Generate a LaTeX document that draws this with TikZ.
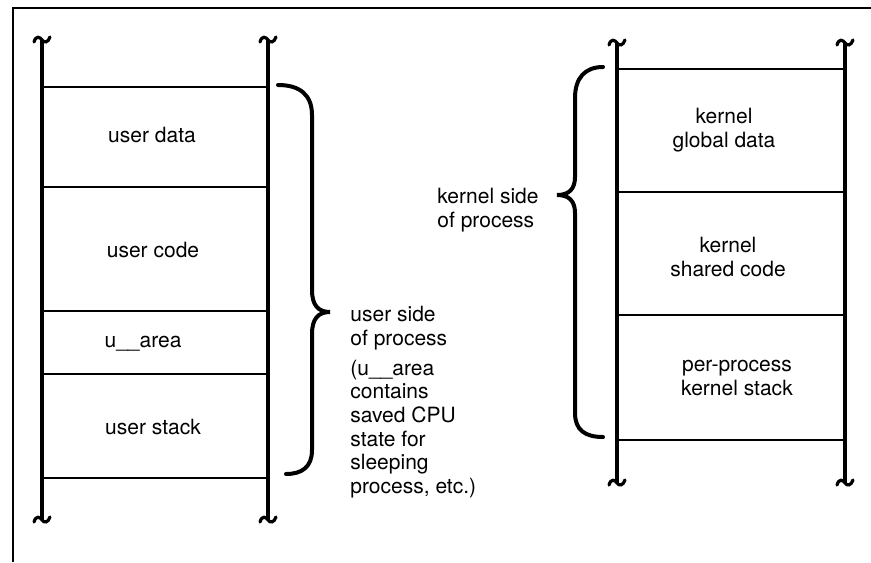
\documentclass[tikz,border=0pt]{standalone}
\usepackage{fontspec}
\setmainfont{TeX Gyre Heros}
\usepackage{tikz}
\usetikzlibrary{positioning}

\begin{document}
\begin{tikzpicture}[
  x=0.5pt, y=-0.5pt,
  col/.style={line width=2pt},
  sepline/.style={line width=1.2pt},
  wig/.style={line width=1.6pt, line cap=round},
  brc/.style={line width=2pt, line cap=round},
  frm/.style={line width=0.8pt},
  lbl/.style={inner sep=0pt, align=center,
    font=\fontsize{10.5}{11.8}\selectfont}
]
\useasboundingbox (0,0) rectangle (871,562);

% frame
\draw[frm] (13,562) -- (13,8) -- (871,8);

% column walls with broken ends
\foreach \x/\yt/\yb in {42/40/520, 268/40/520, 617/43/483, 845/43/483} {
  \draw[col] (\x,\yt) -- (\x,\yb);
  \draw[wig] (\x-8,\yt+2) .. controls (\x-6,\yt-5) and (\x-2,\yt-3) .. (\x,\yt)
    .. controls (\x+2,\yt+3) and (\x+6,\yt+3) .. (\x+8,\yt-3);
  \draw[wig] (\x-8,\yb+2) .. controls (\x-6,\yb-5) and (\x-2,\yb-3) .. (\x,\yb)
    .. controls (\x+2,\yb+3) and (\x+6,\yb+3) .. (\x+8,\yb-3);
}

% dividers
\foreach \y in {87, 187, 311, 374, 478}
  \draw[sepline] (42,\y) -- (268,\y);
\foreach \y in {69, 192, 315, 440}
  \draw[sepline] (617,\y) -- (845,\y);

% user side
\node[lbl] (udata)  at (152,135) {user data};
\node[lbl] (ucode)  at (153,250) {user code};
\node[lbl] (uarea)  at (143,344) {u\_\_area};
\node[lbl] (ustack) at (153,427) {user stack};

% kernel side
\node[lbl] (kdata)  at (724,130) {kernel\\global data};
\node[lbl] (kcode)  at (728,257) {kernel\\shared code};
\node[lbl] (kstack) at (737,378) {per-process\\kernel stack};

% braces
\coordinate (utip) at (330,312);
\coordinate (ktip) at (557,195);
\draw[brc] (278,85) .. controls (300,85) and (312,95) .. (312,115) -- (312,290)
  .. controls (312,305) and (318,312) .. (utip)
  .. controls (318,312) and (312,319) .. (312,334) -- (312,450)
  .. controls (312,467) and (302,474) .. (286,474);
\draw[brc] (603,67) .. controls (585,67) and (575,78) .. (575,98) -- (575,177)
  .. controls (575,189) and (569,195) .. (ktip)
  .. controls (569,195) and (575,201) .. (575,213) -- (575,413)
  .. controls (575,430) and (585,437) .. (603,437);

\node[lbl, align=left, anchor=west] (uside) at (350,328) {user side\\of process};
\node[lbl, align=left, anchor=west] (unote) at (350,429)
  {(u\_\_area\\contains\\saved CPU\\state for\\sleeping\\process, etc.)};
\node[lbl, align=left, anchor=west] (kside) at (437,210) {kernel side\\of process};

\end{tikzpicture}
\end{document}
